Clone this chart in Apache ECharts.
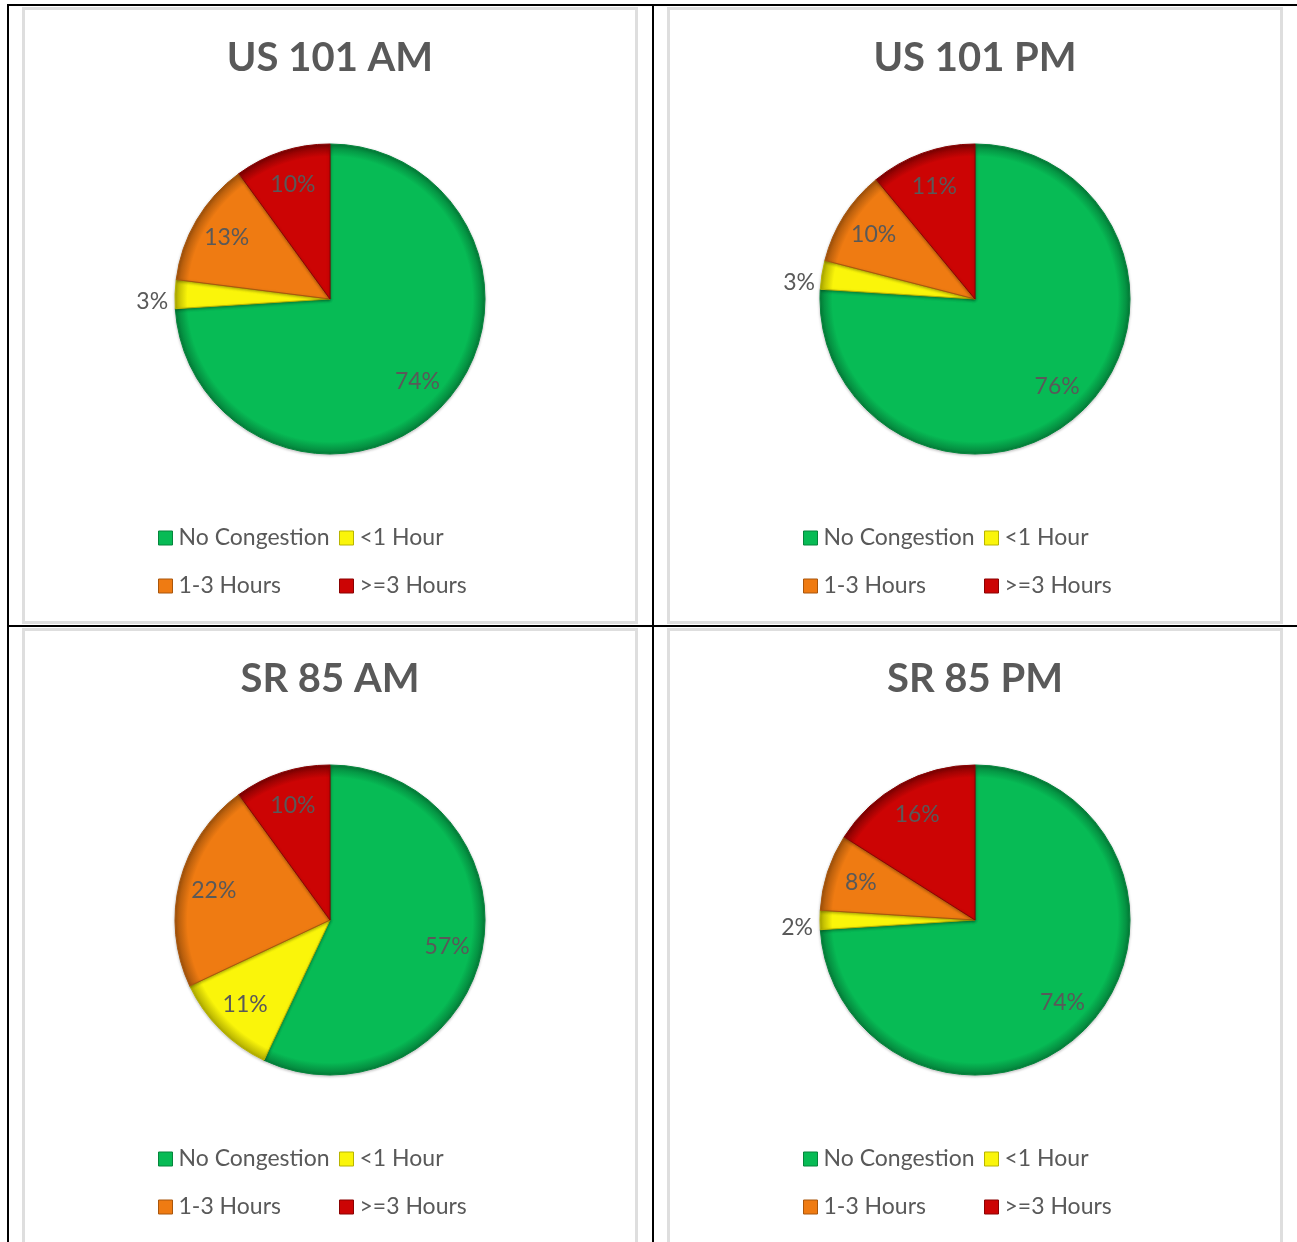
<!DOCTYPE html>
<html>
<head>
<meta charset="utf-8">
<script src="https://cdn.jsdelivr.net/npm/echarts@6/dist/echarts.min.js"></script>
<style>
  html, body { margin: 0; padding: 0; background: #fff; width: 1297px; height: 1242px; overflow: hidden; }
  .line { position: absolute; background: #000; }
  .panel { position: absolute; box-sizing: border-box; border: 3px solid #dedede; background: #fff; }
  .chart { position: absolute; }
</style>
</head>
<body>
<div class="line" style="left:7px;top:4px;width:1290px;height:2px;"></div>
<div class="line" style="left:7px;top:4px;width:2px;height:1238px;"></div>
<div class="line" style="left:652px;top:4px;width:2px;height:1238px;"></div>
<div class="line" style="left:7px;top:625px;width:1290px;height:2px;"></div>

<div class="panel" style="left:22px;top:7px;width:616px;height:617px;"></div>
<div class="panel" style="left:667px;top:7px;width:616px;height:617px;"></div>
<div class="panel" style="left:22px;top:628px;width:616px;height:617px;"></div>
<div class="panel" style="left:667px;top:628px;width:616px;height:617px;"></div>

<div id="c0" class="chart" style="left:22px;top:7px;width:616px;height:617px;"></div>
<div id="c1" class="chart" style="left:667px;top:7px;width:616px;height:617px;"></div>
<div id="c2" class="chart" style="left:22px;top:628px;width:616px;height:617px;"></div>
<div id="c3" class="chart" style="left:667px;top:628px;width:616px;height:617px;"></div>

<script>
// ---- data ----
const categories = ['No Congestion', '<1 Hour', '1-3 Hours', '>=3 Hours'];
const chartTitles = ['US 101 AM', 'US 101 PM', 'SR 85 AM', 'SR 85 PM'];
const us101AM = [74, 3, 13, 10];
const us101PM = [76, 3, 10, 11];
const sr85AM = [57, 11, 22, 10];
const sr85PM = [74, 2, 8, 16];
const seriesValues = [us101AM, us101PM, sr85AM, sr85PM];

// ---- style ----
const colors = ['#07BB55', '#FAF50A', '#EF7B12', '#CC0404'];
const rims = ['#04803a', '#b0ac00', '#a4540b', '#7e0202'];
const borders = ['#05853c', '#b8b400', '#a9560c', '#8a0202'];
const textColor = '#595959';
const fontFamily = 'Lato, "Open Sans", sans-serif';
const R = 155;
const CX = 308, CY = 292;

function rimGradient(i) {
  return {
    type: 'radial', x: CX, y: CY, r: R, global: true,
    colorStops: [
      { offset: 0, color: colors[i] },
      { offset: 0.92, color: colors[i] },
      { offset: 1, color: rims[i] }
    ]
  };
}

function legendBlock(idx, left) {
  return {
    data: idx.map(i => ({
      name: categories[i],
      itemStyle: { color: colors[i], borderColor: borders[i], borderWidth: 1 }
    })),
    orient: 'vertical',
    left: left,
    top: 514,
    itemWidth: 14,
    itemHeight: 14,
    itemGap: 24,
    icon: 'rect',
    selectedMode: false,
    textStyle: { fontFamily: fontFamily, fontSize: 23, color: textColor, lineHeight: 24, padding: [0, 0, 0, 1] }
  };
}

function buildOption(title, values) {
  const mainData = categories.map((name, i) => ({
    name: name,
    value: values[i],
    itemStyle: {
      color: rimGradient(i),
      borderColor: borders[i],
      borderWidth: 1
    }
  }));
  const labelData = categories.map((name, i) => {
    const small = values[i] <= 5;
    return {
      name: name,
      value: values[i],
      label: small
        ? { position: 'outside', formatter: '\n{c}%', lineHeight: 15, padding: [0, 1, 0, 0] }
        : { position: 'inside' },
      labelLine: { show: false, length: 1, length2: 0 }
    };
  });
  return {
    animation: false,
    color: colors,
    title: {
      text: title,
      left: 'center',
      top: 26,
      textStyle: { fontFamily: fontFamily, fontSize: 40, fontWeight: 'bold', color: textColor }
    },
    legend: [
      legendBlock([0, 2], 131),
      legendBlock([1, 3], 312)
    ],
    series: [
      {
        type: 'pie',
        center: [CX, CY],
        radius: [0, R],
        startAngle: 90,
        clockwise: true,
        label: { show: false },
        labelLine: { show: false },
        silent: true,
        data: mainData,
        itemStyle: {
          shadowBlur: 3,
          shadowColor: 'rgba(0,0,0,0.25)',
          shadowOffsetY: 1
        }
      },
      {
        type: 'pie',
        center: [CX, CY],
        radius: [79, R],
        startAngle: 90,
        clockwise: true,
        silent: true,
        itemStyle: { color: 'rgba(0,0,0,0)', borderWidth: 0 },
        label: {
          show: true,
          formatter: '{c}%',
          fontFamily: fontFamily,
          fontSize: 23,
          color: textColor
        },
        labelLine: { show: false },
        data: labelData
      }
    ]
  };
}

for (let k = 0; k < 4; k++) {
  const chart = echarts.init(document.getElementById('c' + k), null, { renderer: 'canvas' });
  chart.setOption(buildOption(chartTitles[k], seriesValues[k]));
}
</script>
</body>
</html>
